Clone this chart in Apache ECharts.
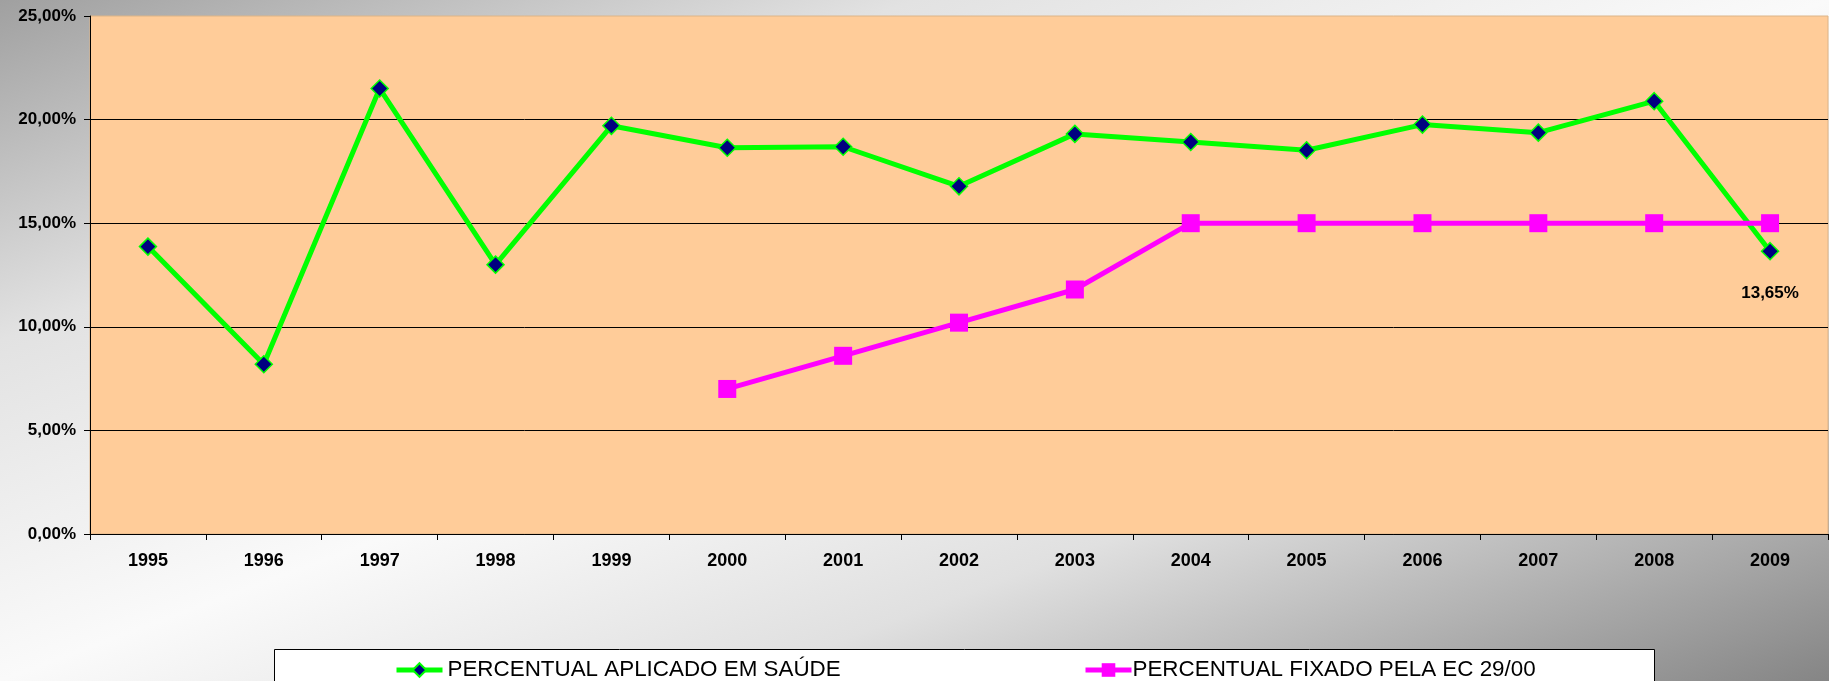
<!DOCTYPE html>
<html>
<head>
<meta charset="utf-8">
<script src="https://cdn.jsdelivr.net/npm/echarts@6/dist/echarts.min.js"></script>
<style>
html,body{margin:0;padding:0;}
#chart{width:1829px;height:681px;}
</style>
</head>
<body>
<div id="chart"></div>
<script>
const years = ['1995','1996','1997','1998','1999','2000','2001','2002','2003','2004','2005','2006','2007','2008','2009'];
const aplicado = [13.87, 8.19, 21.5, 13.0, 19.7, 18.64, 18.69, 16.78, 19.31, 18.92, 18.52, 19.76, 19.37, 20.89, 13.65];
const fixado = [null, null, null, null, null, 7.0, 8.6, 10.2, 11.8, 15.0, 15.0, 15.0, 15.0, 15.0, 15.0];
const yTicks = [0, 5, 10, 15, 20, 25];
const nameA = 'PERCENTUAL APLICADO EM SAÚDE';
const nameB = 'PERCENTUAL FIXADO PELA EC 29/00';
const labelIndex = 14;

const FONT = '"Liberation Sans", Arial, sans-serif';
const fmt = v => v.toFixed(2).replace('.', ',') + '%';

const chart = echarts.init(document.getElementById('chart'), null, {renderer: 'canvas'});

const aData = aplicado.map((v, i) => i === labelIndex ? {
  value: v,
  label: {show: true, position: 'bottom', distance: 24, formatter: p => fmt(p.value),
          color: '#000', fontWeight: 'bold', fontSize: 17, fontFamily: FONT}
} : v);

chart.setOption({
  animation: false,
  backgroundColor: {
    type: 'linear', x: 0, y: 0, x2: 445, y2: 1196, global: true,
    colorStops: [
      {offset: 0, color: '#a0a0a0'},
      {offset: 0.25, color: '#e2e2e2'},
      {offset: 0.5, color: '#fafafa'},
      {offset: 0.7, color: '#e0e0e0'},
      {offset: 1, color: '#858585'}
    ]
  },
  graphic: [{
    type: 'rect', z: 0,
    shape: {x: 274.5, y: 649.5, width: 1380, height: 60},
    style: {fill: '#fff', stroke: '#000', lineWidth: 1}
  }],
  grid: {
    left: 90, right: 1, top: 16, bottom: 147,
    show: true, backgroundColor: '#ffcc99', borderColor: '#dcb488', borderWidth: 1
  },
  legend: [{
    data: [nameA], left: 394, top: 659, padding: 0,
    itemWidth: 46, itemHeight: 17,
    lineStyle: {width: 5},
    textStyle: {fontSize: 22.4, color: '#000', fontFamily: FONT}
  }, {
    data: [nameB], left: 1083, top: 659, padding: 0,
    itemWidth: 46, itemHeight: 17, itemGap: 0,
    lineStyle: {width: 5},
    textStyle: {fontSize: 22.4, color: '#000', fontFamily: FONT, padding: [0, 0, 0, -4]}
  }],
  xAxis: {
    type: 'category', data: years, boundaryGap: true,
    axisLine: {lineStyle: {color: '#000', width: 1}},
    axisTick: {show: true, length: 6, lineStyle: {color: '#000'}},
    axisLabel: {margin: 18, color: '#000', fontWeight: 'bold', fontSize: 18, fontFamily: FONT}
  },
  yAxis: {
    type: 'value', min: yTicks[0], max: yTicks[yTicks.length - 1], interval: 5,
    axisLine: {show: true, lineStyle: {color: '#000', width: 1}},
    axisTick: {show: true, length: 6, lineStyle: {color: '#000'}},
    splitLine: {show: true, showMaxLine: false, lineStyle: {color: '#000', width: 1}},
    axisLabel: {margin: 14, color: '#000', fontWeight: 'bold', fontSize: 17, fontFamily: FONT, formatter: fmt}
  },
  series: [{
    name: nameA, type: 'line', data: aData,
    symbol: 'diamond', symbolSize: 17,
    lineStyle: {color: '#00ff00', width: 5},
    itemStyle: {color: '#000080', borderColor: '#00ff00', borderWidth: 1.5},
    z: 3
  }, {
    name: nameB, type: 'line', data: fixado, connectNulls: false,
    symbol: 'rect', symbolSize: 18,
    lineStyle: {color: '#ff00ff', width: 5},
    itemStyle: {color: '#ff00ff', borderWidth: 0},
    z: 4
  }]
});
</script>
</body>
</html>
